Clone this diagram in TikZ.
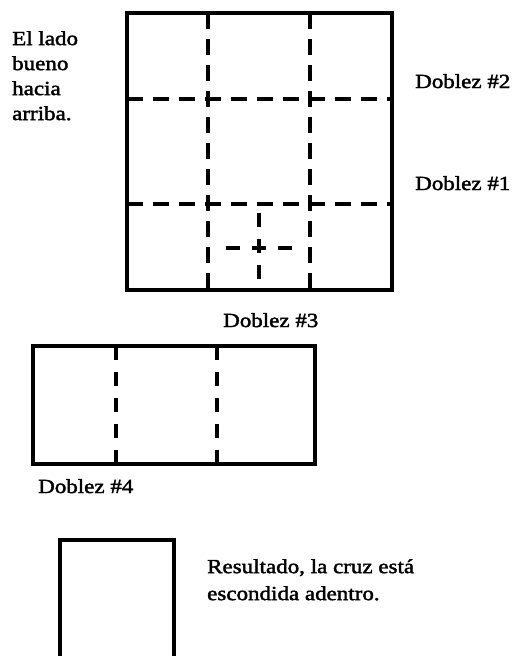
\documentclass[tikz,border=0pt]{standalone}
\usepackage{fontspec}
\setmainfont[FakeStretch=1.15,FakeBold=2]{Liberation Serif}
\begin{document}
\begin{tikzpicture}[x=1pt,y=-1pt,
  edge/.style={line width=3.6pt},
  fold/.style={line width=3.3pt, dash pattern=on 16pt off 10pt},
  crossfold/.style={line width=3.3pt, dash pattern=on 14pt off 12pt},
  lbl/.style={inner sep=0pt, font=\fontsize{20}{25}\selectfont, align=left}]
\path[use as bounding box] (0,0) rectangle (518,656);
\clip (0,0) rectangle (518,656);
% big square
\draw[fold] (208,13) -- (208,290);
\draw[fold] (310,13) -- (310,290);
\draw[fold] (127,99) -- (392,99);
\draw[fold] (127,204) -- (392,204);
\draw[crossfold] (259,213) -- (259,285);
\draw[crossfold] (226,248) -- (294,248);
\draw[edge] (127,13) rectangle (392,290);
% second rectangle
\draw[crossfold] (116,346) -- (116,464);
\draw[crossfold] (217,346) -- (217,464);
\draw[edge] (33,346) rectangle (315,464);
% result
\draw[edge] (60,540) rectangle (174,680);
% labels
\node[lbl, anchor=north west] (side) at (12,31) {El lado\\bueno\\hacia\\arriba.};
\node[lbl, anchor=base west] (d2) at (415,88) {Doblez \#2};
\node[lbl, anchor=base west] (d1) at (415,190) {Doblez \#1};
\node[lbl, anchor=base west] (d3) at (223,327) {Doblez \#3};
\node[lbl, anchor=base west] (d4) at (38,493) {Doblez \#4};
\node[lbl, anchor=north west, font=\fontsize{20}{27}\selectfont] (res) at (207,559) {Resultado, la cruz está\\escondida adentro.};
\end{tikzpicture}
\end{document}
